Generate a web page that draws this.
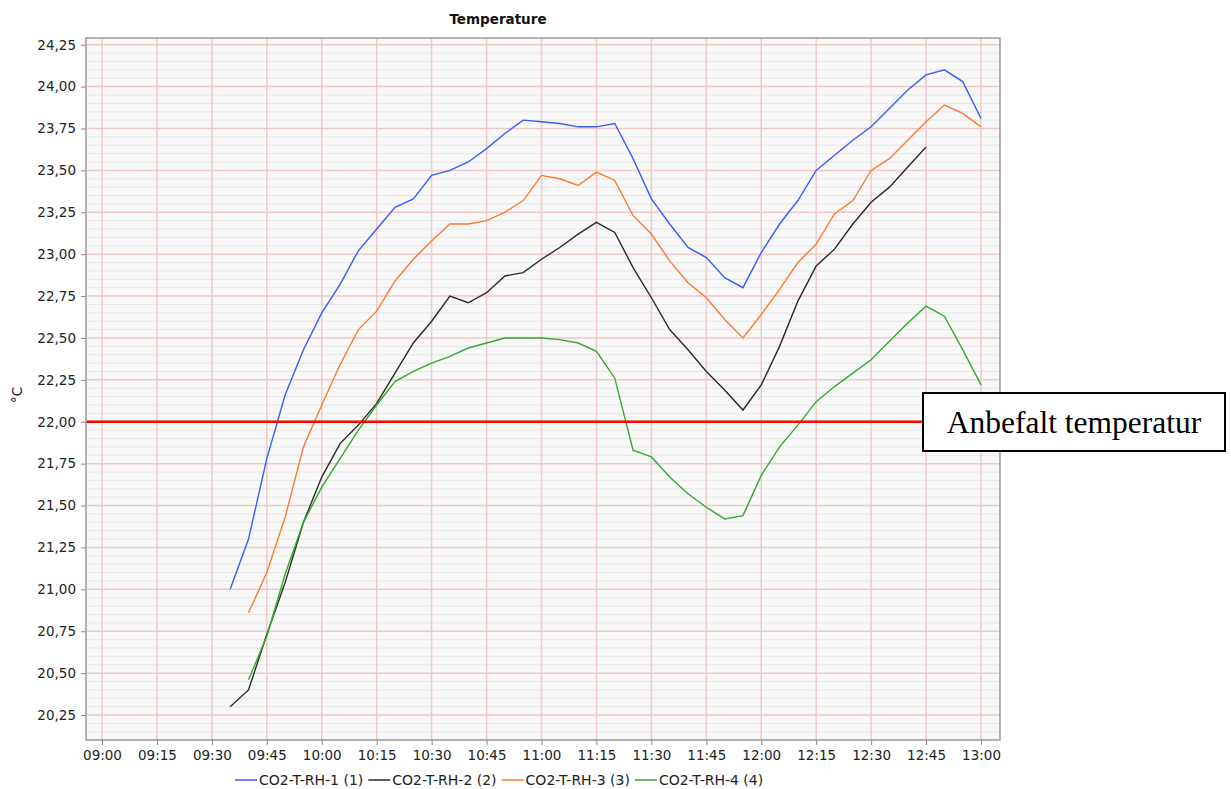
<!DOCTYPE html>
<html>
<head>
<meta charset="utf-8">
<script src="https://cdn.jsdelivr.net/npm/d3@7"></script>
<style>
  body { margin: 0; background: #fff; }
  text { font-family: "DejaVu Sans", sans-serif; }
</style>
</head>
<body>
<div id="chart"></div>
<script>
// Data (5 minute steps)
const times = [
  "09:35", "09:40", "09:45", "09:50", "09:55", "10:00", "10:05", "10:10", "10:15", "10:20",
  "10:25", "10:30", "10:35", "10:40", "10:45", "10:50", "10:55", "11:00", "11:05", "11:10",
  "11:15", "11:20", "11:25", "11:30", "11:35", "11:40", "11:45", "11:50", "11:55", "12:00",
  "12:05", "12:10", "12:15", "12:20", "12:25", "12:30", "12:35", "12:40", "12:45", "12:50",
  "12:55", "13:00"
];

const sensor1 = [
  21.00, 21.30, 21.78, 22.16, 22.43, 22.65, 22.82, 23.02, 23.15, 23.28,
  23.33, 23.47, 23.50, 23.55, 23.63, 23.72, 23.80, 23.79, 23.78, 23.76,
  23.76, 23.78, 23.57, 23.33, 23.18, 23.04, 22.98, 22.86, 22.80, 23.01,
  23.18, 23.32, 23.50, 23.59, 23.68, 23.76, 23.87, 23.98, 24.07, 24.10,
  24.03, 23.81
];

const sensor2 = [
  20.30, 20.40, 20.73, 21.04, 21.40, 21.67, 21.87, 21.98, 22.11, 22.29,
  22.47, 22.60, 22.75, 22.71, 22.77, 22.87, 22.89, 22.97, 23.04, 23.12,
  23.19, 23.13, 22.92, 22.74, 22.55, 22.43, 22.30, 22.19, 22.07, 22.22,
  22.45, 22.72, 22.93, 23.03, 23.18, 23.31, 23.40, 23.52, 23.64, null,
  null, null
];

const sensor3 = [
  null, 20.86, 21.10, 21.43, 21.85, 22.10, 22.34, 22.55, 22.66, 22.84,
  22.97, 23.08, 23.18, 23.18, 23.20, 23.25, 23.32, 23.47, 23.45, 23.41,
  23.49, 23.44, 23.23, 23.12, 22.96, 22.83, 22.74, 22.61, 22.50, 22.64,
  22.79, 22.95, 23.06, 23.24, 23.32, 23.50, 23.57, 23.68, 23.79, 23.89,
  23.84, 23.76
];

const sensor4 = [
  null, 20.46, 20.72, 21.09, 21.40, 21.61, 21.78, 21.95, 22.10, 22.24,
  22.30, 22.35, 22.39, 22.44, 22.47, 22.50, 22.50, 22.50, 22.49, 22.47,
  22.42, 22.26, 21.83, 21.79, 21.67, 21.57, 21.49, 21.42, 21.44, 21.68,
  21.85, 21.98, 22.12, 22.21, 22.29, 22.37, 22.48, 22.59, 22.69, 22.63,
  22.43, 22.22
];

const seriesNames = ["CO2-T-RH-1 (1)", "CO2-T-RH-2 (2)", "CO2-T-RH-3 (3)", "CO2-T-RH-4 (4)"];
const seriesColors = ["#3a5cff", "#2a2a2a", "#ff7a2e", "#35a835"];
const xTickLabels = [
  "09:00", "09:15", "09:30", "09:45", "10:00", "10:15", "10:30", "10:45", "11:00",
  "11:15", "11:30", "11:45", "12:00", "12:15", "12:30", "12:45", "13:00"
];
const yTicks = d3.range(20.25, 24.26, 0.25);
const recommended = 22.0;
const recommendedLabel = "Anbefalt temperatur";

function createLinechart(containerId) {
  const width = 1231;
  const height = 789;

  const plot = { left: 86, right: 1000, top: 38, bottom: 740 };

  const parseTime = d3.timeParse("%H:%M:%S");
  const toDate = (s) => parseTime(s.length === 5 ? s + ":00" : s);

  const svg = d3
    .select(containerId)
    .append("svg")
    .attr("width", width)
    .attr("height", height);

  const xScale = d3
    .scaleTime()
    .domain([toDate("08:55:38"), toDate("13:05:11")])
    .range([plot.left, plot.right]);

  const yScale = d3
    .scaleLinear()
    .domain([20.101, 24.29])
    .range([plot.bottom, plot.top]);

  // Plot background and grid

  svg
    .append("rect")
    .attr("x", plot.left)
    .attr("y", plot.top)
    .attr("width", plot.right - plot.left)
    .attr("height", plot.bottom - plot.top)
    .style("fill", "#f8f8f8");

  const minorTicks = d3.range(20.15, 24.29, 0.05).filter((v) => Math.abs(v * 4 - Math.round(v * 4)) > 0.01);

  svg
    .append("g")
    .selectAll("line")
    .data(minorTicks)
    .enter()
    .append("line")
    .attr("x1", plot.left)
    .attr("x2", plot.right)
    .attr("y1", (d) => yScale(d))
    .attr("y2", (d) => yScale(d))
    .style("stroke", "#e6e6e6")
    .style("stroke-width", 1);

  svg
    .append("g")
    .selectAll("line")
    .data(yTicks)
    .enter()
    .append("line")
    .attr("x1", plot.left)
    .attr("x2", plot.right)
    .attr("y1", (d) => yScale(d))
    .attr("y2", (d) => yScale(d))
    .style("stroke", "#f0c9c9")
    .style("stroke-width", 1.5);

  svg
    .append("g")
    .selectAll("line")
    .data(xTickLabels)
    .enter()
    .append("line")
    .attr("x1", (d) => xScale(toDate(d)))
    .attr("x2", (d) => xScale(toDate(d)))
    .attr("y1", plot.top)
    .attr("y2", plot.bottom)
    .style("stroke", "#f0c9c9")
    .style("stroke-width", 1.5);

  // Lines

  const allSeries = [sensor1, sensor2, sensor3, sensor4];

  const line = d3
    .line()
    .defined((d) => d.value != null)
    .x((d) => xScale(toDate(d.time)))
    .y((d) => yScale(d.value));

  allSeries.forEach((values, i) => {
    const points = times.map((t, j) => ({ time: t, value: values[j] }));
    svg
      .append("path")
      .datum(points)
      .attr("d", line)
      .style("fill", "none")
      .style("stroke", seriesColors[i])
      .style("stroke-width", 1.4);
  });

  // Recommended temperature

  svg
    .append("line")
    .attr("x1", plot.left)
    .attr("x2", plot.right)
    .attr("y1", yScale(recommended))
    .attr("y2", yScale(recommended))
    .style("stroke", "#ff0000")
    .style("stroke-width", 2.5);

  // Border

  svg
    .append("rect")
    .attr("x", plot.left)
    .attr("y", plot.top)
    .attr("width", plot.right - plot.left)
    .attr("height", plot.bottom - plot.top)
    .style("fill", "none")
    .style("stroke", "#9a9a9a")
    .style("stroke-width", 1.5);

  // Axis

  const yAxis = svg
    .append("g")
    .attr("transform", `translate(${plot.left},0)`)
    .call(
      d3
        .axisLeft(yScale)
        .tickValues(yTicks)
        .tickSize(5)
        .tickSizeOuter(0)
        .tickFormat((d) => d3.format(".2f")(d).replace(".", ","))
    );

  yAxis.select(".domain").remove();
  yAxis.selectAll(".tick line").style("stroke", "#888");
  yAxis
    .selectAll(".tick text")
    .attr("x", -10)
    .style("font-family", "DejaVu Sans")
    .style("font-size", "13.5px")
    .style("fill", "#222");

  const xAxis = svg
    .append("g")
    .attr("transform", `translate(0,${plot.bottom})`)
    .call(
      d3
        .axisBottom(xScale)
        .tickValues(xTickLabels.map(toDate))
        .tickSize(5)
        .tickSizeOuter(0)
        .tickFormat(d3.timeFormat("%H:%M"))
    );

  xAxis.select(".domain").remove();
  xAxis.selectAll(".tick line").style("stroke", "#888");
  xAxis
    .selectAll(".tick text")
    .attr("y", 10)
    .style("font-family", "DejaVu Sans")
    .style("font-size", "13.5px")
    .style("fill", "#222");

  svg
    .append("text")
    .attr("x", -395)
    .attr("y", 22)
    .attr("transform", "rotate(-90)")
    .attr("text-anchor", "middle")
    .style("font-size", "13.5px")
    .style("fill", "#222")
    .text("°C");

  // Title

  svg
    .append("text")
    .attr("x", 498)
    .attr("y", 24)
    .attr("text-anchor", "middle")
    .style("font-size", "13.5px")
    .style("font-weight", "bold")
    .style("fill", "#111")
    .text("Temperature");

  // Legend

  const legend = svg.append("g").attr("transform", "translate(235,780)");
  let offset = 0;
  seriesNames.forEach((name, i) => {
    const item = legend.append("g").attr("transform", `translate(${offset},0)`);
    item
      .append("line")
      .attr("x1", 0)
      .attr("x2", 22)
      .style("stroke", seriesColors[i])
      .style("stroke-width", 1.5);
    const label = item
      .append("text")
      .attr("x", 24)
      .attr("y", 5)
      .style("font-size", "14px")
      .style("fill", "#222")
      .text(name);
    offset += 24 + label.node().getComputedTextLength() + 5;
  });

  // Annotation box

  const box = svg.append("g").attr("transform", "translate(923,393)");
  box
    .append("rect")
    .attr("width", 302)
    .attr("height", 58)
    .style("fill", "#fff")
    .style("stroke", "#000")
    .style("stroke-width", 2);
  box
    .append("text")
    .attr("x", 151)
    .attr("y", 40)
    .attr("text-anchor", "middle")
    .style("font-family", "Liberation Serif, serif")
    .style("font-size", "31.5px")
    .style("fill", "#000")
    .text(recommendedLabel);
}

createLinechart("#chart");
</script>
</body>
</html>
